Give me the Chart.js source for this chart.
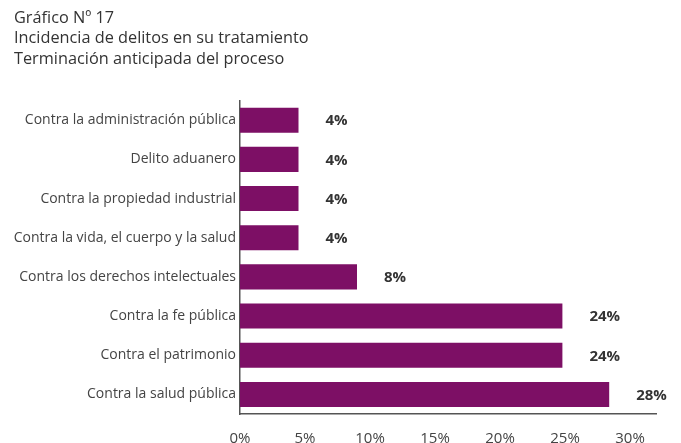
<!DOCTYPE html>
<html>
<head>
<meta charset="utf-8">
<script src="https://cdn.jsdelivr.net/npm/chart.js@4"></script>
<style>
html,body{margin:0;padding:0;background:#fff;}
#wrap{width:681px;height:443px;position:relative;}
</style>
</head>
<body>
<div id="wrap"><canvas id="c" width="681" height="443"></canvas></div>
<script>
const titleLines = ["Gráfico Nº 17", "Incidencia de delitos en su tratamiento", "Terminación anticipada del proceso"];
const categories = [
  "Contra la administración pública",
  "Delito aduanero",
  "Contra la propiedad industrial",
  "Contra la vida, el cuerpo y la salud",
  "Contra los derechos intelectuales",
  "Contra la fe pública",
  "Contra el patrimonio",
  "Contra la salud pública"
];
const values = [4.5, 4.5, 4.5, 4.5, 9.0, 24.8, 24.8, 28.4];
const valueLabels = ["4%", "4%", "4%", "4%", "8%", "24%", "24%", "28%"];
const xTicks = [0, 5, 10, 15, 20, 25, 30];

const FONT = "'Open Sans', sans-serif";
const BAR = "#7D0F65";

const valueLabelPlugin = {
  id: 'valueLabels',
  afterDatasetsDraw(chart) {
    const ctx = chart.ctx;
    const meta = chart.getDatasetMeta(0);
    ctx.save();
    ctx.font = "bold 15px " + FONT;
    ctx.fillStyle = "#333";
    ctx.textAlign = "left";
    ctx.textBaseline = "middle";
    meta.data.forEach((bar, i) => {
      ctx.fillText(valueLabels[i], bar.x + 27, bar.y + 1);
    });
    ctx.restore();
  }
};

new Chart(document.getElementById('c'), {
  type: 'bar',
  data: {
    labels: categories,
    datasets: [{
      data: values,
      backgroundColor: BAR,
      barPercentage: 0.64,
      categoryPercentage: 1.0
    }]
  },
  options: {
    indexAxis: 'y',
    responsive: false,
    animation: false,
    layout: { padding: { left: 14, right: 25, top: 8, bottom: 0 } },
    plugins: {
      legend: { display: false },
      tooltip: { enabled: false },
      title: {
        display: true,
        text: titleLines,
        align: 'start',
        color: '#333',
        font: { family: FONT, size: 16.3, weight: 'normal', lineHeight: 1.26 },
        padding: { top: 0, bottom: 31 }
      }
    },
    scales: {
      x: {
        min: 0,
        max: 32,
        afterBuildTicks(scale) { scale.ticks = xTicks.map(v => ({ value: v })); },
        afterFit(scale) { scale.height = 29; },
        grid: { display: false, drawTicks: false },
        border: { display: true, color: '#555', width: 1.5 },
        ticks: {
          color: '#444',
          font: { family: FONT, size: 15 },
          padding: 16,
          callback: (v) => v + '%'
        }
      },
      y: {
        grid: { display: false, drawTicks: false },
        border: { display: true, color: '#555', width: 1.5 },
        afterFit(scale) { scale.width = 226; },
        ticks: {
          color: '#444',
          font: { family: FONT, size: 14 },
          padding: 4
        }
      }
    }
  },
  plugins: [valueLabelPlugin]
});
</script>
</body>
</html>
